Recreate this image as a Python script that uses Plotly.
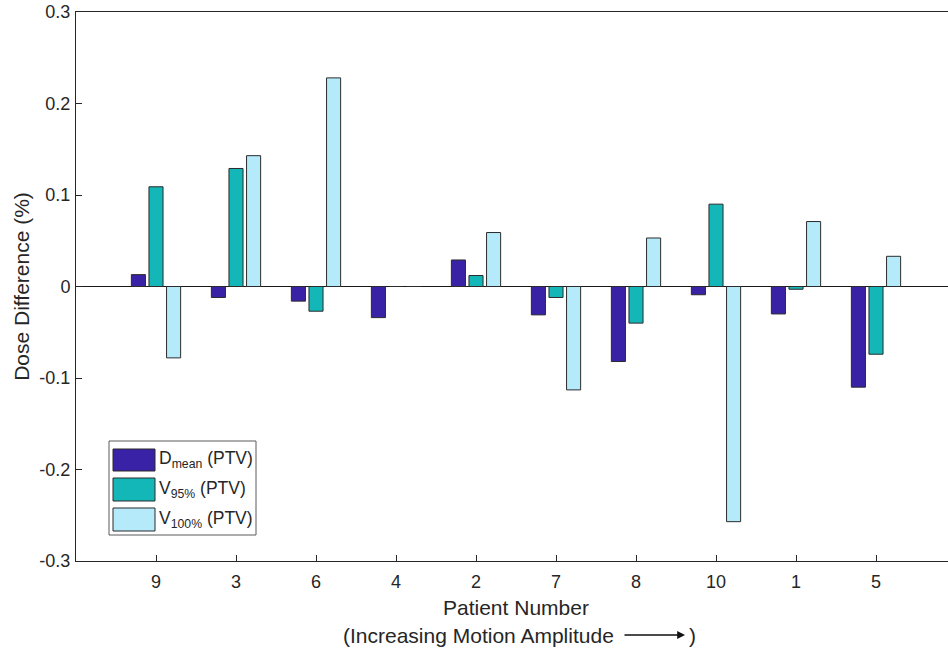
import plotly.graph_objects as go

# ---- data ----
patients = ["9", "3", "6", "4", "2", "7", "8", "10", "1", "5"]
d_mean = [0.013, -0.012, -0.016, -0.034, 0.029, -0.031, -0.082, -0.009, -0.030, -0.110]
v95 = [0.109, 0.129, -0.027, 0.0, 0.012, -0.012, -0.040, 0.090, -0.003, -0.074]
v100 = [-0.078, 0.143, 0.228, 0.0, 0.059, -0.113, 0.053, -0.257, 0.071, 0.033]
series_names = ["D<sub>mean</sub> (PTV)", "V<sub>95%</sub> (PTV)", "V<sub>100%</sub> (PTV)"]
series_colors = ["#3A22A6", "#14B7B7", "#B4EAFA"]
y_ticks = [-0.3, -0.2, -0.1, 0, 0.1, 0.2, 0.3]
y_ticktext = ["-0.3", "-0.2", "-0.1", "0", "0.1", "0.2", "0.3"]

FONT = "Liberation Sans, Arial, Helvetica, sans-serif"
TXT = "#262626"
W, H = 948, 653
ML, MR, MT, MB = 76, 0, 12, 92

fig = go.Figure()
for vals, name, col in zip([d_mean, v95, v100], series_names, series_colors):
    fig.add_trace(go.Bar(
        x=patients, y=vals, name=name,
        marker=dict(color=col, line=dict(color="#2b2b2b", width=1)),
        showlegend=False,
    ))

# helpers for pixel -> paper
pw = W - ML - MR
ph = H - MT - MB
def px(x):
    return (x - ML) / pw
def py(y):
    return (H - MB - y) / ph

shapes = []
annotations = []
# custom legend box
shapes.append(dict(type="rect", xref="paper", yref="paper",
                   x0=px(109), x1=px(256), y0=py(535), y1=py(441),
                   line=dict(color="#5a5a5a", width=1), fillcolor="white", layer="above"))
sw_rows = [(449, 471), (478, 501), (508, 531)]
for (y0, y1), name, col in zip(sw_rows, series_names, series_colors):
    shapes.append(dict(type="rect", xref="paper", yref="paper",
                       x0=px(113), x1=px(155), y0=py(y1), y1=py(y0),
                       line=dict(color="#2b2b2b", width=1), fillcolor=col, layer="above"))
    annotations.append(dict(xref="paper", yref="paper", x=px(157), y=py((y0 + y1) / 2),
                            text=name, showarrow=False, xanchor="left", yanchor="middle",
                            font=dict(family=FONT, size=17.5, color=TXT)))

# x axis title lines
annotations.append(dict(xref="paper", yref="paper", x=px(516), y=py(607),
                        text="Patient Number", showarrow=False,
                        xanchor="center", yanchor="middle",
                        font=dict(family=FONT, size=21, color=TXT)))
annotations.append(dict(xref="paper", yref="paper", x=px(616), y=py(635),
                        text="(Increasing Motion Amplitude", showarrow=False,
                        xanchor="right", yanchor="middle",
                        font=dict(family=FONT, size=21, color=TXT)))
annotations.append(dict(xref="paper", yref="paper", x=px(685), y=py(635),
                        ax=-62, ay=0, axref="pixel", ayref="pixel",
                        text="", showarrow=True, arrowhead=2, arrowsize=1.2,
                        arrowwidth=1.3, arrowcolor="#111111"))
annotations.append(dict(xref="paper", yref="paper", x=px(687), y=py(635),
                        text=")", showarrow=False, xanchor="left", yanchor="middle",
                        font=dict(family=FONT, size=21, color=TXT)))

fig.update_layout(
    width=W, height=H,
    margin=dict(l=ML, r=MR, t=MT, b=MB, pad=0),
    paper_bgcolor="white", plot_bgcolor="white",
    barmode="group", bargap=0.34, bargroupgap=0.2,
    font=dict(family=FONT, size=18, color=TXT),
    shapes=shapes, annotations=annotations,
    xaxis=dict(type="category", range=[-1, 9.9], showgrid=False,
               showline=True, linecolor="#262626", linewidth=1, mirror=True,
               ticks="inside", ticklen=6, tickcolor="#262626",
               ticklabelstandoff=4,
               tickfont=dict(family=FONT, size=18, color=TXT), zeroline=False),
    yaxis=dict(range=[-0.3, 0.3], tickvals=y_ticks, ticktext=y_ticktext,
               showgrid=False, showline=True, linecolor="#262626", linewidth=1,
               mirror=False, ticks="inside", ticklen=6, tickcolor="#262626",
               ticklabelstandoff=1,
               tickfont=dict(family=FONT, size=18, color=TXT),
               zeroline=True, zerolinecolor="#1a1a1a", zerolinewidth=1,
               title=dict(text="Dose Difference (%)", standoff=4,
                          font=dict(family=FONT, size=21, color=TXT))),
)

fig.write_html("out.html")
